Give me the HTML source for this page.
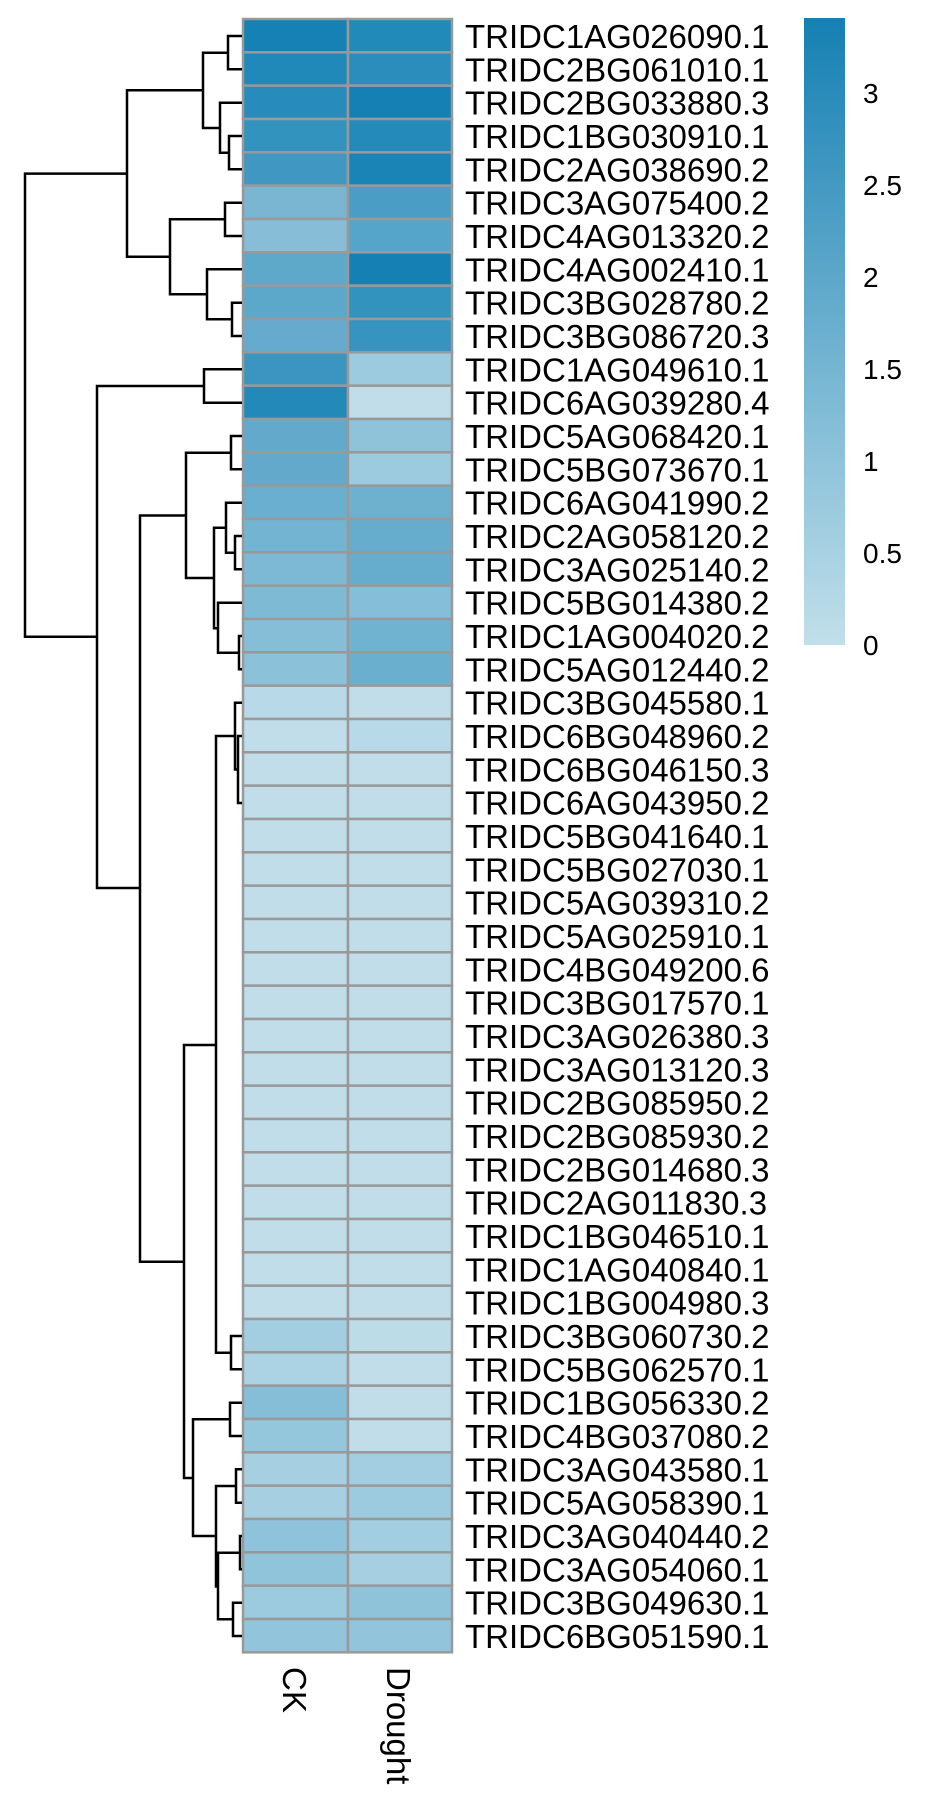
<!DOCTYPE html>
<html><head><meta charset="utf-8"><style>
html,body{margin:0;padding:0;background:#fff;}
svg{display:block;}
text{font-family:"Liberation Sans",Arial,sans-serif;fill:#000;}
</style></head><body>
<svg width="930" height="1814" viewBox="0 0 930 1814" xmlns="http://www.w3.org/2000/svg">
<defs><linearGradient id="g" x1="0" y1="1" x2="0" y2="0">
<stop offset="0" stop-color="#c1dfea"/><stop offset="1" stop-color="#1580b3"/></linearGradient></defs>
<g stroke="#999" stroke-width="2.5">
<rect x="243" y="19" width="105" height="33.33" fill="#1681b4"/><rect x="348" y="19" width="104" height="33.33" fill="#218ab9"/>
<rect x="243" y="52.33" width="105" height="33.33" fill="#2189b9"/><rect x="348" y="52.33" width="104" height="33.33" fill="#2b8dbb"/>
<rect x="243" y="85.67" width="105" height="33.33" fill="#278cbb"/><rect x="348" y="85.67" width="104" height="33.33" fill="#1580b3"/>
<rect x="243" y="119" width="105" height="33.33" fill="#3393bf"/><rect x="348" y="119" width="104" height="33.33" fill="#238ab9"/>
<rect x="243" y="152.33" width="105" height="33.33" fill="#4097c2"/><rect x="348" y="152.33" width="104" height="33.33" fill="#1a84b6"/>
<rect x="243" y="185.67" width="105" height="33.33" fill="#7ab5d2"/><rect x="348" y="185.67" width="104" height="33.33" fill="#4a9ec5"/>
<rect x="243" y="219" width="105" height="33.33" fill="#88bdd7"/><rect x="348" y="219" width="104" height="33.33" fill="#55a4c9"/>
<rect x="243" y="252.33" width="105" height="33.33" fill="#5ea8ca"/><rect x="348" y="252.33" width="104" height="33.33" fill="#1580b3"/>
<rect x="243" y="285.67" width="105" height="33.33" fill="#5ba8ca"/><rect x="348" y="285.67" width="104" height="33.33" fill="#3393bf"/>
<rect x="243" y="319" width="105" height="33.33" fill="#66abcd"/><rect x="348" y="319" width="104" height="33.33" fill="#3793c0"/>
<rect x="243" y="352.33" width="105" height="33.33" fill="#3b95c0"/><rect x="348" y="352.33" width="104" height="33.33" fill="#9ccadf"/>
<rect x="243" y="385.67" width="105" height="33.33" fill="#2389b9"/><rect x="348" y="385.67" width="104" height="33.33" fill="#c0dde9"/>
<rect x="243" y="419" width="105" height="33.33" fill="#62a9cc"/><rect x="348" y="419" width="104" height="33.33" fill="#8fc3da"/>
<rect x="243" y="452.33" width="105" height="33.33" fill="#62a9cc"/><rect x="348" y="452.33" width="104" height="33.33" fill="#9ccadf"/>
<rect x="243" y="485.67" width="105" height="33.33" fill="#6aafcf"/><rect x="348" y="485.67" width="104" height="33.33" fill="#6eb1cf"/>
<rect x="243" y="519" width="105" height="33.33" fill="#72b4d2"/><rect x="348" y="519" width="104" height="33.33" fill="#66accd"/>
<rect x="243" y="552.33" width="105" height="33.33" fill="#7db9d5"/><rect x="348" y="552.33" width="104" height="33.33" fill="#66accd"/>
<rect x="243" y="585.67" width="105" height="33.33" fill="#7fbad5"/><rect x="348" y="585.67" width="104" height="33.33" fill="#84bed8"/>
<rect x="243" y="619" width="105" height="33.33" fill="#86bed8"/><rect x="348" y="619" width="104" height="33.33" fill="#70b3d1"/>
<rect x="243" y="652.33" width="105" height="33.33" fill="#8bc1d9"/><rect x="348" y="652.33" width="104" height="33.33" fill="#6aafce"/>
<rect x="243" y="685.67" width="105" height="33.33" fill="#b8d9e8"/><rect x="348" y="685.67" width="104" height="33.33" fill="#c0dde9"/>
<rect x="243" y="719" width="105" height="33.33" fill="#c0dde9"/><rect x="348" y="719" width="104" height="33.33" fill="#b8d9e8"/>
<rect x="243" y="752.33" width="105" height="33.33" fill="#c0dde9"/><rect x="348" y="752.33" width="104" height="33.33" fill="#c0dde9"/>
<rect x="243" y="785.67" width="105" height="33.33" fill="#c0dde9"/><rect x="348" y="785.67" width="104" height="33.33" fill="#c0dde9"/>
<rect x="243" y="819" width="105" height="33.33" fill="#c0dde9"/><rect x="348" y="819" width="104" height="33.33" fill="#c0dde9"/>
<rect x="243" y="852.33" width="105" height="33.33" fill="#c0dde9"/><rect x="348" y="852.33" width="104" height="33.33" fill="#c0dde9"/>
<rect x="243" y="885.67" width="105" height="33.33" fill="#c0dde9"/><rect x="348" y="885.67" width="104" height="33.33" fill="#c0dde9"/>
<rect x="243" y="919" width="105" height="33.33" fill="#c0dde9"/><rect x="348" y="919" width="104" height="33.33" fill="#c0dde9"/>
<rect x="243" y="952.33" width="105" height="33.33" fill="#c0dde9"/><rect x="348" y="952.33" width="104" height="33.33" fill="#c0dde9"/>
<rect x="243" y="985.67" width="105" height="33.33" fill="#c0dde9"/><rect x="348" y="985.67" width="104" height="33.33" fill="#c0dde9"/>
<rect x="243" y="1019" width="105" height="33.33" fill="#c0dde9"/><rect x="348" y="1019" width="104" height="33.33" fill="#c0dde9"/>
<rect x="243" y="1052.33" width="105" height="33.33" fill="#c0dde9"/><rect x="348" y="1052.33" width="104" height="33.33" fill="#c0dde9"/>
<rect x="243" y="1085.67" width="105" height="33.33" fill="#c0dde9"/><rect x="348" y="1085.67" width="104" height="33.33" fill="#c0dde9"/>
<rect x="243" y="1119" width="105" height="33.33" fill="#c0dde9"/><rect x="348" y="1119" width="104" height="33.33" fill="#c0dde9"/>
<rect x="243" y="1152.33" width="105" height="33.33" fill="#c0dde9"/><rect x="348" y="1152.33" width="104" height="33.33" fill="#c0dde9"/>
<rect x="243" y="1185.67" width="105" height="33.33" fill="#c0dde9"/><rect x="348" y="1185.67" width="104" height="33.33" fill="#c0dde9"/>
<rect x="243" y="1219" width="105" height="33.33" fill="#c0dde9"/><rect x="348" y="1219" width="104" height="33.33" fill="#c0dde9"/>
<rect x="243" y="1252.33" width="105" height="33.33" fill="#c0dde9"/><rect x="348" y="1252.33" width="104" height="33.33" fill="#c0dde9"/>
<rect x="243" y="1285.67" width="105" height="33.33" fill="#c0dde9"/><rect x="348" y="1285.67" width="104" height="33.33" fill="#c0dde9"/>
<rect x="243" y="1319" width="105" height="33.33" fill="#a3cde1"/><rect x="348" y="1319" width="104" height="33.33" fill="#bcdce8"/>
<rect x="243" y="1352.33" width="105" height="33.33" fill="#acd3e4"/><rect x="348" y="1352.33" width="104" height="33.33" fill="#c0dde9"/>
<rect x="243" y="1385.67" width="105" height="33.33" fill="#86bed8"/><rect x="348" y="1385.67" width="104" height="33.33" fill="#c0dde9"/>
<rect x="243" y="1419" width="105" height="33.33" fill="#94c6dc"/><rect x="348" y="1419" width="104" height="33.33" fill="#c0dde9"/>
<rect x="243" y="1452.33" width="105" height="33.33" fill="#a6cfe2"/><rect x="348" y="1452.33" width="104" height="33.33" fill="#a3cde1"/>
<rect x="243" y="1485.67" width="105" height="33.33" fill="#a6cfe2"/><rect x="348" y="1485.67" width="104" height="33.33" fill="#9ccadf"/>
<rect x="243" y="1519" width="105" height="33.33" fill="#8fc3db"/><rect x="348" y="1519" width="104" height="33.33" fill="#a3cde1"/>
<rect x="243" y="1552.33" width="105" height="33.33" fill="#90c4db"/><rect x="348" y="1552.33" width="104" height="33.33" fill="#a6cfe2"/>
<rect x="243" y="1585.67" width="105" height="33.33" fill="#9ccadf"/><rect x="348" y="1585.67" width="104" height="33.33" fill="#8fc3da"/>
<rect x="243" y="1619" width="105" height="33.33" fill="#92c4db"/><rect x="348" y="1619" width="104" height="33.33" fill="#92c4db"/>
</g>
<g fill="none" stroke="#000" stroke-width="2.5">
<path d="M242 36H228V69.3H242"/>
<path d="M242 136H229V169.3H242"/>
<path d="M242 102.7H220V152.7H229"/>
<path d="M228 52.7H203V128H220"/>
<path d="M242 202.7H225V236H242"/>
<path d="M242 302.7H232V336H242"/>
<path d="M242 269.3H207V319.3H232"/>
<path d="M225 219.3H170V294.3H207"/>
<path d="M203 90.3H127V256.8H170"/>
<path d="M127 173.6H25V636.7H97"/>
<path d="M242 369.3H204V402.7H242"/>
<path d="M204 386H97V888H140"/>
<path d="M242 436H231V469.3H242"/>
<path d="M242 536H235V569.3H242"/>
<path d="M242 502.7H226V552.7H235"/>
<path d="M242 636H239V669.3H242"/>
<path d="M242 602.7H218V652.7H239"/>
<path d="M226 527.7H214V628.3H218"/>
<path d="M231 452.7H186V578H214"/>
<path d="M186 515.5H140V1261.7H184"/>
<path d="M242 736H238V803H242"/>
<path d="M242 702.7H235V769.5H238"/>
<path d="M242 1336H231V1369.3H242"/>
<path d="M235 736H216V1352.7H231"/>
<path d="M216 1045H184V1478H193"/>
<path d="M242 1402.7H230V1436H242"/>
<path d="M242 1469.3H236V1502.7H242"/>
<path d="M242 1536H240V1569.3H242"/>
<path d="M242 1602.7H233V1636H242"/>
<path d="M240 1552.7H218V1619.3H233"/>
<path d="M236 1486H216V1586.5H218"/>
<path d="M230 1419.3H193V1536H216"/>
</g>
<g font-size="33">
<text x="465" y="48">TRIDC1AG026090.1</text>
<text x="465" y="81.3">TRIDC2BG061010.1</text>
<text x="465" y="114.7">TRIDC2BG033880.3</text>
<text x="465" y="148">TRIDC1BG030910.1</text>
<text x="465" y="181.3">TRIDC2AG038690.2</text>
<text x="465" y="214.7">TRIDC3AG075400.2</text>
<text x="465" y="248">TRIDC4AG013320.2</text>
<text x="465" y="281.3">TRIDC4AG002410.1</text>
<text x="465" y="314.7">TRIDC3BG028780.2</text>
<text x="465" y="348">TRIDC3BG086720.3</text>
<text x="465" y="381.3">TRIDC1AG049610.1</text>
<text x="465" y="414.7">TRIDC6AG039280.4</text>
<text x="465" y="448">TRIDC5AG068420.1</text>
<text x="465" y="481.3">TRIDC5BG073670.1</text>
<text x="465" y="514.7">TRIDC6AG041990.2</text>
<text x="465" y="548">TRIDC2AG058120.2</text>
<text x="465" y="581.3">TRIDC3AG025140.2</text>
<text x="465" y="614.7">TRIDC5BG014380.2</text>
<text x="465" y="648">TRIDC1AG004020.2</text>
<text x="465" y="681.3">TRIDC5AG012440.2</text>
<text x="465" y="714.7">TRIDC3BG045580.1</text>
<text x="465" y="748">TRIDC6BG048960.2</text>
<text x="465" y="781.3">TRIDC6BG046150.3</text>
<text x="465" y="814.7">TRIDC6AG043950.2</text>
<text x="465" y="848">TRIDC5BG041640.1</text>
<text x="465" y="881.3">TRIDC5BG027030.1</text>
<text x="465" y="914.7">TRIDC5AG039310.2</text>
<text x="465" y="948">TRIDC5AG025910.1</text>
<text x="465" y="981.3">TRIDC4BG049200.6</text>
<text x="465" y="1014.7">TRIDC3BG017570.1</text>
<text x="465" y="1048">TRIDC3AG026380.3</text>
<text x="465" y="1081.3">TRIDC3AG013120.3</text>
<text x="465" y="1114.7">TRIDC2BG085950.2</text>
<text x="465" y="1148">TRIDC2BG085930.2</text>
<text x="465" y="1181.3">TRIDC2BG014680.3</text>
<text x="465" y="1214.7">TRIDC2AG011830.3</text>
<text x="465" y="1248">TRIDC1BG046510.1</text>
<text x="465" y="1281.3">TRIDC1AG040840.1</text>
<text x="465" y="1314.7">TRIDC1BG004980.3</text>
<text x="465" y="1348">TRIDC3BG060730.2</text>
<text x="465" y="1381.3">TRIDC5BG062570.1</text>
<text x="465" y="1414.7">TRIDC1BG056330.2</text>
<text x="465" y="1448">TRIDC4BG037080.2</text>
<text x="465" y="1481.3">TRIDC3AG043580.1</text>
<text x="465" y="1514.7">TRIDC5AG058390.1</text>
<text x="465" y="1548">TRIDC3AG040440.2</text>
<text x="465" y="1581.3">TRIDC3AG054060.1</text>
<text x="465" y="1614.7">TRIDC3BG049630.1</text>
<text x="465" y="1648">TRIDC6BG051590.1</text>
<text transform="translate(283,1667) rotate(90)">CK</text>
<text transform="translate(387,1667) rotate(90)">Drought</text>
</g>
<rect x="804" y="18" width="41" height="627" fill="url(#g)"/>
<g font-size="28">
<text x="863" y="103">3</text>
<text x="863" y="195">2.5</text>
<text x="863" y="287">2</text>
<text x="863" y="379">1.5</text>
<text x="863" y="471">1</text>
<text x="863" y="563">0.5</text>
<text x="863" y="655">0</text>
</g>
</svg>
</body></html>
